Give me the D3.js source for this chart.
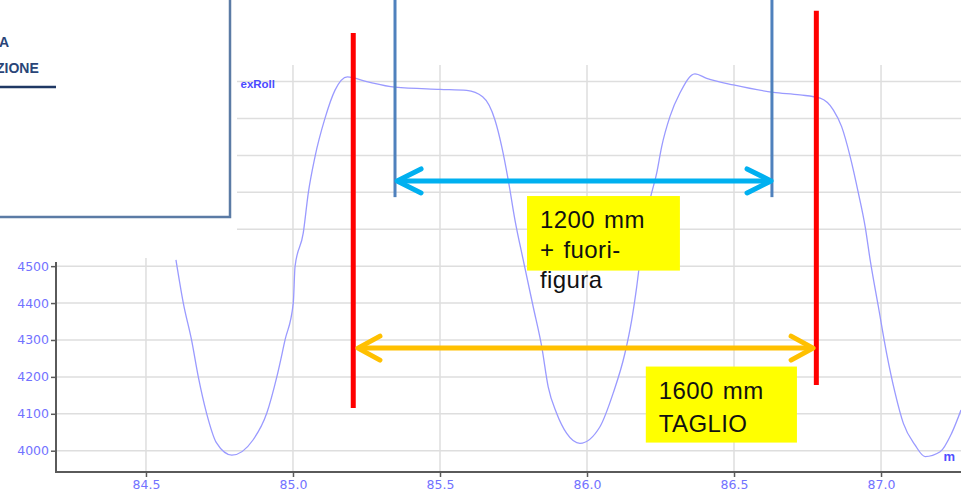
<!DOCTYPE html>
<html>
<head>
<meta charset="utf-8">
<script src="https://cdn.jsdelivr.net/npm/d3@7"></script>
<style>
  html, body { margin: 0; padding: 0; background: #fff; overflow: hidden; }
  svg { display: block; }
</style>
</head>
<body>
<div id="chart"></div>
<script>
// roll profile (position in m, value)
const posM = [84.602, 84.627, 84.655, 84.678, 84.706, 84.740, 84.792, 84.864, 84.911, 84.945,
  84.973, 85.001, 85.007, 85.035, 85.052, 85.075, 85.109, 85.143, 85.185, 85.251,
  85.347, 85.500, 85.591, 85.645, 85.687, 85.710, 85.732, 85.755, 85.783, 85.817,
  85.846, 85.868, 85.897, 85.931, 85.976, 86.044, 86.089, 86.129, 86.152, 86.169,
  86.186, 86.214, 86.237, 86.254, 86.282, 86.316, 86.367, 86.407, 86.498, 86.634,
  86.724, 86.793, 86.838, 86.866, 86.895, 86.923, 86.946, 86.963, 86.991, 87.019,
  87.048, 87.076, 87.116, 87.150, 87.201, 87.240, 87.272];
const rollVal = [4517, 4400, 4300, 4200, 4102, 4021, 3988, 4029, 4102, 4200,
  4300, 4400, 4499, 4590, 4698, 4797, 4901, 4977, 5013, 5000,
  4985, 4979, 4976, 4959, 4896, 4824, 4734, 4625, 4517, 4390,
  4282, 4173, 4101, 4047, 4020, 4065, 4156, 4264, 4354, 4444,
  4553, 4679, 4752, 4824, 4905, 4969, 5021, 5009, 4991, 4971,
  4964, 4955, 4923, 4878, 4797, 4698, 4607, 4517, 4390, 4264,
  4156, 4074, 4015, 3984, 3997, 4047, 4110];

const xTicks = [84.5, 85.0, 85.5, 86.0, 86.5, 87.0];
const yTicks = [4000, 4100, 4200, 4300, 4400, 4500];
const yGrid = [4000, 4100, 4200, 4300, 4400, 4500, 4600, 4700, 4800, 4900, 5000];

// markers drawn over the chart (in m)
const cutMarks = [85.205, 86.78];      // red: 1600 mm cut
const figureMarks = [85.347, 86.629];  // blue: 1200 mm figure
const labels = [
  ['1200 mm', '+ fuori-', 'figura'],
  ['1600 mm', 'TAGLIO']
];

const width = 961;
const height = 494;

const svg = d3.select('#chart')
  .append('svg')
  .attr('width', width)
  .attr('height', height);

const x = d3.scaleLinear().domain([84.194, 87.272]).range([56, 961]);
const y = d3.scaleLinear().domain([3942.3, 5045]).range([472, 65]);

// grid
svg.append('g')
  .selectAll('line')
  .data(yGrid)
  .enter().append('line')
  .attr('x1', 56).attr('x2', width)
  .attr('y1', d => y(d)).attr('y2', d => y(d))
  .attr('stroke', '#dedede').attr('stroke-width', 1.5);

svg.append('g')
  .selectAll('line')
  .data(xTicks)
  .enter().append('line')
  .attr('x1', d => x(d)).attr('x2', d => x(d))
  .attr('y1', 65).attr('y2', 472)
  .attr('stroke', '#dedede').attr('stroke-width', 1.5);

// profile
const line = d3.line()
  .x((d, i) => x(posM[i]))
  .y(d => y(d))
  .curve(d3.curveMonotoneX);

svg.append('path')
  .datum(rollVal)
  .attr('d', line)
  .attr('fill', 'none')
  .attr('stroke', '#9a9aff')
  .attr('stroke-width', 1.3);

// axes
const xAxis = d3.axisBottom(x).tickValues(xTicks).tickFormat(d3.format('.1f')).tickSize(5);
const yAxis = d3.axisLeft(y).tickValues(yTicks).tickFormat(d3.format('d')).tickSize(5);

const gx = svg.append('g')
  .attr('transform', 'translate(0,472)')
  .call(xAxis);
gx.select('.domain').remove();
gx.append('line').attr('x1', 56).attr('x2', width).attr('y1', 0).attr('y2', 0)
  .attr('stroke', '#5a5a5a').attr('stroke-width', 2);

const gy = svg.append('g')
  .attr('transform', 'translate(56,0)')
  .call(yAxis);
gy.select('.domain').remove();
gy.append('line').attr('x1', 0).attr('x2', 0).attr('y1', 262).attr('y2', 473)
  .attr('stroke', '#5a5a5a').attr('stroke-width', 2);

svg.selectAll('.tick line').attr('stroke', '#5a5a5a').attr('stroke-width', 1.5);
svg.selectAll('.tick text')
  .attr('fill', '#7272ff')
  .style('font-family', '"DejaVu Sans", sans-serif')
  .style('font-size', '12.5px');
gx.selectAll('.tick text').attr('y', 8).attr('dy', '0.72em');
gy.selectAll('.tick text').attr('x', -7);

svg.append('text')
  .attr('x', 955).attr('y', 461)
  .attr('text-anchor', 'end')
  .attr('fill', '#5050ff')
  .style('font-family', '"Liberation Sans", Arial, sans-serif')
  .style('font-size', '13px').style('font-weight', 'bold')
  .text('m');

svg.append('text')
  .attr('x', 275).attr('y', 88)
  .attr('text-anchor', 'end')
  .attr('fill', '#4a4aff')
  .style('font-family', '"Liberation Sans", Arial, sans-serif')
  .style('font-size', '11.5px').style('font-weight', 'bold')
  .text('exRoll');

// white cover and the framed box in the top-left corner
svg.append('rect')
  .attr('x', 0).attr('y', 0).attr('width', 237).attr('height', 258)
  .attr('fill', '#fff');
svg.append('rect')
  .attr('x', -5).attr('y', -5).attr('width', 235).attr('height', 222)
  .attr('fill', '#fff').attr('stroke', '#5b7ba5').attr('stroke-width', 2.5);
svg.append('text')
  .attr('x', -1).attr('y', 47)
  .attr('fill', '#2a4578')
  .style('font-family', '"Liberation Sans", Arial, sans-serif')
  .style('font-size', '14px').style('font-weight', 'bold')
  .text('A');
svg.append('text')
  .attr('x', -4).attr('y', 73)
  .attr('fill', '#2a4578')
  .style('font-family', '"Liberation Sans", Arial, sans-serif')
  .style('font-size', '14px').style('font-weight', 'bold')
  .text('ZIONE');
svg.append('line')
  .attr('x1', 0).attr('x2', 56).attr('y1', 87).attr('y2', 87)
  .attr('stroke', '#1f3864').attr('stroke-width', 2.5);

// marker lines
svg.append('g')
  .selectAll('line')
  .data(figureMarks)
  .enter().append('line')
  .attr('x1', d => x(d)).attr('x2', d => x(d))
  .attr('y1', y(5225)).attr('y2', y(4687))
  .attr('stroke', '#4f81bd').attr('stroke-width', 3);

const redSpans = [[4116, 5132], [4178, 5192]];
svg.append('g')
  .selectAll('line')
  .data(cutMarks)
  .enter().append('line')
  .attr('x1', d => x(d)).attr('x2', d => x(d))
  .attr('y1', (d, i) => y(redSpans[i][1])).attr('y2', (d, i) => y(redSpans[i][0]))
  .attr('stroke', '#ff0000').attr('stroke-width', 5);

function doubleArrow(x0, x1, yv, color, back, spread) {
  const g = svg.append('g')
    .attr('stroke', color).attr('stroke-width', 5)
    .attr('fill', 'none').attr('stroke-linecap', 'round').attr('stroke-linejoin', 'round');
  const py = y(yv);
  const a = x(x0), b = x(x1);
  g.append('line').attr('x1', a + 2).attr('x2', b - 2).attr('y1', py).attr('y2', py);
  g.append('path').attr('d', 'M' + (a + back) + ',' + (py - spread) + 'L' + a + ',' + py + 'L' + (a + back) + ',' + (py + spread));
  g.append('path').attr('d', 'M' + (b - back) + ',' + (py - spread) + 'L' + b + ',' + py + 'L' + (b - back) + ',' + (py + spread));
}
doubleArrow(85.354, 86.626, 4731, '#00b0f0', 24, 12);
doubleArrow(85.221, 86.769, 4278, '#ffc000', 22, 12);

// yellow labels
const boxes = [
  {x0: 85.796, x1: 86.316, top: 4690, bottom: 4488, step: 30},
  {x0: 86.2, x1: 86.714, top: 4228, bottom: 4022, step: 33}
];
boxes.forEach((b, i) => {
  svg.append('rect')
    .attr('x', x(b.x0)).attr('y', y(b.top))
    .attr('width', x(b.x1) - x(b.x0)).attr('height', y(b.bottom) - y(b.top))
    .attr('fill', '#ffff00');
  svg.append('g')
    .selectAll('text')
    .data(labels[i])
    .enter().append('text')
    .attr('x', x(b.x0) + 13)
    .attr('y', (d, j) => y(b.top) + 32 + j * b.step)
    .attr('fill', '#111')
    .style('font-family', '"Liberation Sans", Arial, sans-serif')
    .style('font-size', '24px')
    .style('word-spacing', '2px')
    .style('letter-spacing', '0.4px')
    .text(d => d);
});
</script>
</body>
</html>
